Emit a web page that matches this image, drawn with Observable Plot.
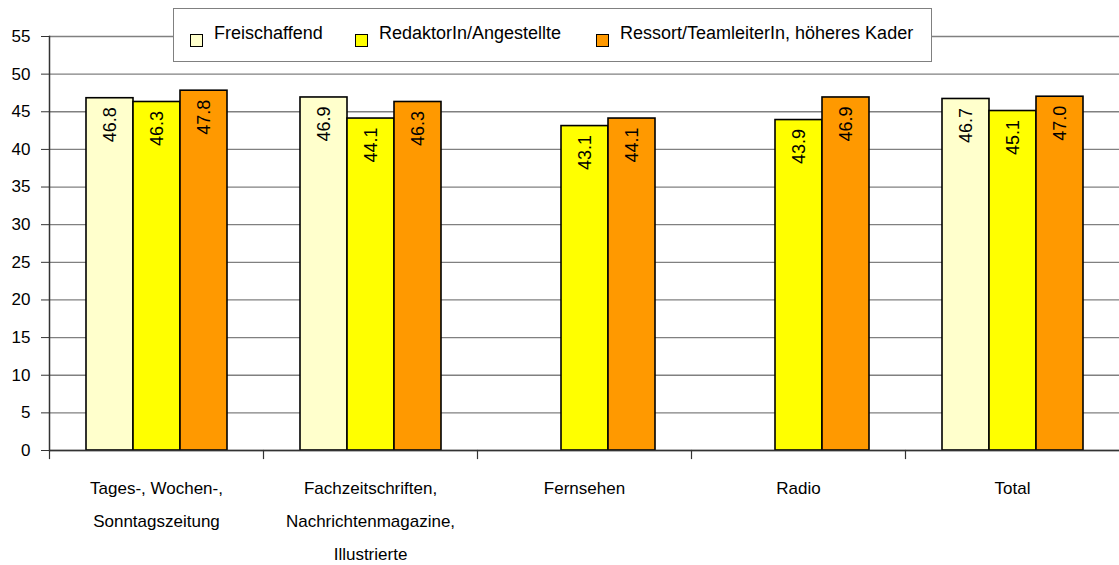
<!DOCTYPE html>
<html><head><meta charset="utf-8">
<script src="https://cdn.jsdelivr.net/npm/d3@7"></script>
<script src="https://cdn.jsdelivr.net/npm/@observablehq/plot@0.6"></script>
<style>
body{margin:0;background:#fff;}
#wrap{position:relative;width:1119px;height:565px;font-family:"Liberation Sans",Arial,sans-serif;}
#legend{position:absolute;left:173px;top:8px;width:759px;height:54px;box-sizing:border-box;border:1px solid #808080;background:#fff;}
.item{position:absolute;top:0;height:49px;display:flex;align-items:center;font-size:18px;color:#000;white-space:nowrap;}
.sw{width:11px;height:11px;border:1.5px solid #000;margin-right:11px;margin-top:14px;}
</style></head><body><div id="wrap"></div>
<script>
const categories = ["Tages-, Wochen-, Sonntagszeitung", "Fachzeitschriften, Nachrichtenmagazine, Illustrierte", "Fernsehen", "Radio", "Total"];
const categoryLabels = ["Tages-, Wochen-,\nSonntagszeitung", "Fachzeitschriften,\nNachrichtenmagazine,\nIllustrierte", "Fernsehen", "Radio", "Total"];
const series = ["Freischaffend", "RedaktorIn/Angestellte", "Ressort/TeamleiterIn, höheres Kader"];
const freischaffend = [46.8, 46.9, null, null, 46.7];
const redaktor = [46.3, 44.1, 43.1, 43.9, 45.1];
const ressort = [47.8, 46.3, 44.1, 46.9, 47.0];
const colors = ["#FFFFCC", "#FFFF00", "#FF9900"];
const yTicks = [0, 5, 10, 15, 20, 25, 30, 35, 40, 45, 50, 55];
const legendLeft = [16, 181, 422];

const values = [freischaffend, redaktor, ressort];
const rows = [];
categories.forEach((c, i) => series.forEach((s, j) => {
  const v = values[j][i];
  if (v != null) rows.push({category: c, series: s, value: v});
}));
const labelOf = new Map(categories.map((c, i) => [c, categoryLabels[i]]));

const W = 1119, H = 565, mT = 36, mB = 115, mL = 49, mR = 0;
const font = '"Liberation Sans",Arial,sans-serif';

const chart = Plot.plot({
  width: W, height: H,
  marginLeft: mL, marginRight: mR, marginTop: mT, marginBottom: mB,
  style: {fontFamily: font, fontSize: "17px", background: "white", color: "#000", overflow: "visible"},
  fx: {domain: categories, padding: 0, label: null},
  x: {domain: series, paddingInner: 0, paddingOuter: 0.745, axis: null},
  y: {domain: [0, 55], label: null},
  color: {domain: series, range: colors},
  marks: [
    Plot.gridY(yTicks, {stroke: "#808080", strokeOpacity: 1, strokeWidth: 1.3}),
    Plot.axisY(yTicks, {anchor: "left", tickSize: 8, tickPadding: 11, fontSize: 17, stroke: "#333", tickFormat: d => String(d)}),
    Plot.axisFx({anchor: "bottom", tickSize: 0, tickPadding: 20, lineHeight: 1.95, fontSize: 17, label: null, tickFormat: d => labelOf.get(d)}),
    Plot.frame({anchor: "left", facetAnchor: "left", stroke: "#333", strokeWidth: 1.5}),
    Plot.frame({anchor: "left", insetTop: H - mT - mB, insetBottom: -8, stroke: "#333", strokeWidth: 1.2}),
    Plot.barY(rows, {fx: "category", x: "series", y: "value", fill: "series", stroke: "#000", strokeWidth: 1.6}),
    Plot.ruleY([0], {stroke: "#333", strokeWidth: 1.5}),
    Plot.text(rows, {fx: "category", x: "series", y: "value", text: d => d.value.toFixed(1), rotate: -90, textAnchor: "end", dy: 9, fontSize: 18, fill: "#000"})
  ]
});

const wrap = document.getElementById("wrap");
wrap.appendChild(chart);
const legend = document.createElement("div");
legend.id = "legend";
series.forEach((s, i) => {
  const it = document.createElement("div");
  it.className = "item";
  it.style.left = legendLeft[i] + "px";
  const sw = document.createElement("span");
  sw.className = "sw";
  sw.style.background = colors[i];
  const t = document.createElement("span");
  t.textContent = s;
  it.appendChild(sw); it.appendChild(t);
  legend.appendChild(it);
});
wrap.appendChild(legend);
</script></body></html>
